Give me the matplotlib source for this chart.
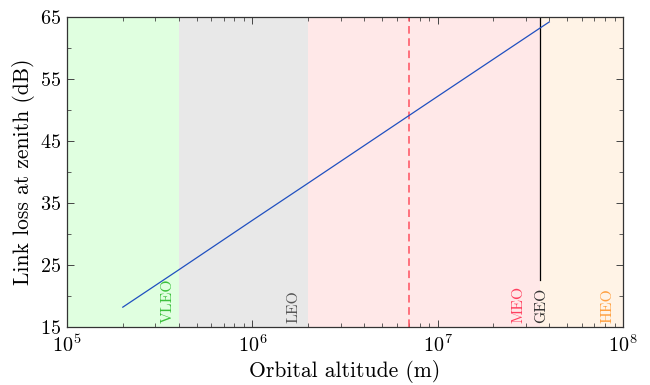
import matplotlib
matplotlib.use("Agg")
import matplotlib.pyplot as plt
import numpy as np

plt.rcParams['font.family'] = ['cmr10', 'DejaVu Serif']
plt.rcParams['mathtext.fontset'] = 'cm'
plt.rcParams['axes.formatter.use_mathtext'] = True
plt.rcParams['axes.unicode_minus'] = False

# data
altitude = [2e5, 4e5, 1e6, 2e6, 7e6, 1e7, 3.6e7, 4e7]
link_loss = [18.2, 24.2, 32.2, 38.2, 49.1, 52.2, 63.3, 64.2]

region_names = ["VLEO", "LEO", "MEO", "HEO"]
region_start = [1e5, 4e5, 2e6, 3.5786e7]
region_end = [4e5, 2e6, 3.5786e7, 1e8]
region_fill = ["#e0ffe0", "#e8e8e8", "#ffe8e8", "#fff3e6"]
label_names = ["VLEO", "LEO", "MEO", "GEO", "HEO"]
label_x = [3.5e5, 1.68e6, 2.75e7, 3.64e7, 8.26e7]
label_colors = ["#3cc03c", "#555555", "#ff4060", "#333333", "#ffa040"]
geo_alt = 3.5786e7
dashed_alt = 7.0e6

fig = plt.figure(figsize=(6.5, 3.85), dpi=100)
ax = fig.add_axes([67/650, 1-327/385, 556/650, 310/385])

for s, e, c in zip(region_start, region_end, region_fill):
    ax.axvspan(s, e, color=c, lw=0, zorder=0)

ax.plot(altitude, link_loss, color="#2050c0", lw=0.9, zorder=3)
ax.axvline(dashed_alt, color="#ff5060", lw=1.1, ls=(0, (5, 3)), zorder=2)
ax.plot([geo_alt, geo_alt], [22.6, 65], color="black", lw=0.9, zorder=2)

for name, x, c in zip(label_names, label_x, label_colors):
    ax.text(x, 15.6, name, rotation=90, ha='center', va='bottom', color=c,
            fontsize=11.3, zorder=4)

ax.set_xscale('log')
ax.set_xlim(1e5, 1e8)
ax.set_ylim(15, 65)
ax.set_yticks([15, 25, 35, 45, 55, 65])
ax.set_yticks([20, 30, 40, 50, 60], minor=True)
ax.tick_params(which='both', direction='in', top=True, right=True, labelsize=14.5)
ax.tick_params(which='major', length=5, width=0.7, color='#444444')
ax.tick_params(which='minor', length=3, width=0.6, color='#444444')
ax.tick_params(axis='x', pad=5)
ax.tick_params(axis='y', pad=4)
for sp in ax.spines.values():
    sp.set_linewidth(0.9)
    sp.set_color('#333333')

ax.set_xlabel("Orbital altitude (m)", fontsize=15.5, labelpad=3)
ax.set_ylabel("Link loss at zenith (dB)", fontsize=15.5, labelpad=4)

fig.savefig("out.png", dpi=100)
